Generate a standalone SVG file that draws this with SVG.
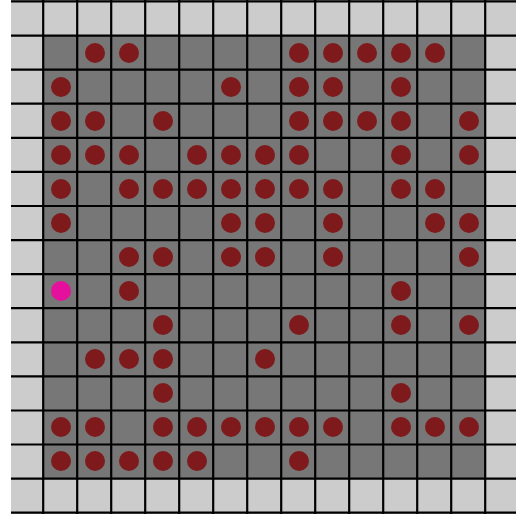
<svg xmlns="http://www.w3.org/2000/svg" xmlns:xlink="http://www.w3.org/1999/xlink" width="516" height="517" viewBox="0 0 516 517">
<style>
.grid{fill:none;stroke:#000;stroke-width:2.2}
.rock{fill:#7f1a1c}
.me{fill:#e5119c}
</style>
<defs>
<circle id="dot" r="10"/>
</defs>
<rect x="0" y="0" width="516" height="517" fill="#ffffff"/>
<g id="board">
<rect x="11" y="0" width="505" height="514" fill="#cccccc"/>
<rect x="43.2" y="35.6" width="442" height="443" fill="#777777"/>
<path class="grid" d="M43.2 0V514M77.2 0V514M111.2 0V514M145.2 0V514M179.2 0V514M213.2 0V514M247.2 0V514M281.2 0V514M315.2 0V514M349.2 0V514M383.2 0V514M417.2 0V514M451.2 0V514M485.2 0V514
M11 1.3H516M11 35.6H516M11 69.7H516M11 103.7H516M11 137.8H516M11 171.9H516M11 206H516M11 240.1H516M11 274.1H516M11 308.2H516M11 342.3H516M11 376.4H516M11 410.5H516M11 444.5H516M11 478.6H516M11 512.7H516"/>
</g>
<g id="rocks" class="rock">
<use xlink:href="#dot" x="95" y="53"/><use xlink:href="#dot" x="129" y="53"/><use xlink:href="#dot" x="299" y="53"/><use xlink:href="#dot" x="333" y="53"/><use xlink:href="#dot" x="367" y="53"/><use xlink:href="#dot" x="401" y="53"/><use xlink:href="#dot" x="435" y="53"/>
<use xlink:href="#dot" x="61" y="87"/><use xlink:href="#dot" x="231" y="87"/><use xlink:href="#dot" x="299" y="87"/><use xlink:href="#dot" x="333" y="87"/><use xlink:href="#dot" x="401" y="87"/>
<use xlink:href="#dot" x="61" y="121"/><use xlink:href="#dot" x="95" y="121"/><use xlink:href="#dot" x="163" y="121"/><use xlink:href="#dot" x="299" y="121"/><use xlink:href="#dot" x="333" y="121"/><use xlink:href="#dot" x="367" y="121"/><use xlink:href="#dot" x="401" y="121"/><use xlink:href="#dot" x="469" y="121"/>
<use xlink:href="#dot" x="61" y="155"/><use xlink:href="#dot" x="95" y="155"/><use xlink:href="#dot" x="129" y="155"/><use xlink:href="#dot" x="197" y="155"/><use xlink:href="#dot" x="231" y="155"/><use xlink:href="#dot" x="265" y="155"/><use xlink:href="#dot" x="299" y="155"/><use xlink:href="#dot" x="401" y="155"/><use xlink:href="#dot" x="469" y="155"/>
<use xlink:href="#dot" x="61" y="189"/><use xlink:href="#dot" x="129" y="189"/><use xlink:href="#dot" x="163" y="189"/><use xlink:href="#dot" x="197" y="189"/><use xlink:href="#dot" x="231" y="189"/><use xlink:href="#dot" x="265" y="189"/><use xlink:href="#dot" x="299" y="189"/><use xlink:href="#dot" x="333" y="189"/><use xlink:href="#dot" x="401" y="189"/><use xlink:href="#dot" x="435" y="189"/>
<use xlink:href="#dot" x="61" y="223"/><use xlink:href="#dot" x="231" y="223"/><use xlink:href="#dot" x="265" y="223"/><use xlink:href="#dot" x="333" y="223"/><use xlink:href="#dot" x="435" y="223"/><use xlink:href="#dot" x="469" y="223"/>
<use xlink:href="#dot" x="129" y="257"/><use xlink:href="#dot" x="163" y="257"/><use xlink:href="#dot" x="231" y="257"/><use xlink:href="#dot" x="265" y="257"/><use xlink:href="#dot" x="333" y="257"/><use xlink:href="#dot" x="469" y="257"/>
<use xlink:href="#dot" x="129" y="291"/><use xlink:href="#dot" x="401" y="291"/>
<use xlink:href="#dot" x="163" y="325"/><use xlink:href="#dot" x="299" y="325"/><use xlink:href="#dot" x="401" y="325"/><use xlink:href="#dot" x="469" y="325"/>
<use xlink:href="#dot" x="95" y="359"/><use xlink:href="#dot" x="129" y="359"/><use xlink:href="#dot" x="163" y="359"/><use xlink:href="#dot" x="265" y="359"/>
<use xlink:href="#dot" x="163" y="393"/><use xlink:href="#dot" x="401" y="393"/>
<use xlink:href="#dot" x="61" y="427"/><use xlink:href="#dot" x="95" y="427"/><use xlink:href="#dot" x="163" y="427"/><use xlink:href="#dot" x="197" y="427"/><use xlink:href="#dot" x="231" y="427"/><use xlink:href="#dot" x="265" y="427"/><use xlink:href="#dot" x="299" y="427"/><use xlink:href="#dot" x="333" y="427"/><use xlink:href="#dot" x="401" y="427"/><use xlink:href="#dot" x="435" y="427"/><use xlink:href="#dot" x="469" y="427"/>
<use xlink:href="#dot" x="61" y="461"/><use xlink:href="#dot" x="95" y="461"/><use xlink:href="#dot" x="129" y="461"/><use xlink:href="#dot" x="163" y="461"/><use xlink:href="#dot" x="197" y="461"/><use xlink:href="#dot" x="299" y="461"/>
</g>
<g id="player" class="me">
<use xlink:href="#dot" x="61" y="291"/>
</g>
</svg>
